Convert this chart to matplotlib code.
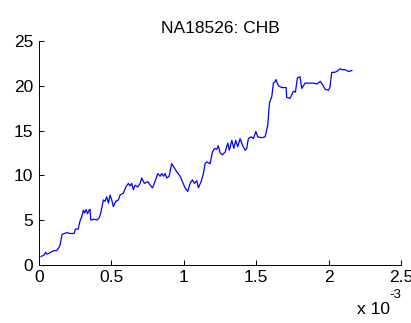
import matplotlib
matplotlib.use("Agg")
import matplotlib.pyplot as plt

plt.rcParams['font.family'] = ['Liberation Sans', 'DejaVu Sans']

# position along the genome (x 10^-3) and cumulative score
pos_e3 = [0.014, 0.035, 0.045, 0.053, 0.07, 0.09, 0.11, 0.122, 0.135, 0.145, 0.159, 0.175,
          0.191, 0.215, 0.242, 0.251, 0.27, 0.283, 0.295, 0.306, 0.315, 0.325, 0.335, 0.345,
          0.352, 0.357, 0.38, 0.40, 0.417, 0.426, 0.444, 0.456, 0.467, 0.479, 0.490, 0.502,
          0.513, 0.530, 0.548, 0.559, 0.582, 0.599, 0.617, 0.628, 0.640, 0.651, 0.663, 0.682,
          0.698, 0.709, 0.727, 0.751, 0.767, 0.783, 0.796, 0.820, 0.836, 0.847, 0.859, 0.870,
          0.882, 0.898, 0.916, 0.935, 0.951, 0.974, 0.990, 1.008, 1.027, 1.043, 1.059, 1.073,
          1.089, 1.100, 1.119, 1.135, 1.146, 1.158, 1.181, 1.197, 1.211, 1.227, 1.238, 1.250,
          1.266, 1.285, 1.303, 1.314, 1.331, 1.345, 1.358, 1.372, 1.388, 1.404, 1.423, 1.434,
          1.445, 1.464, 1.480, 1.497, 1.510, 1.538, 1.561, 1.579, 1.591, 1.607, 1.618, 1.627,
          1.637, 1.645, 1.653, 1.676, 1.706, 1.71, 1.733, 1.745, 1.756, 1.77, 1.784, 1.802,
          1.814, 1.837, 1.87, 1.894, 1.92, 1.941, 1.959, 1.975, 1.998, 2.008, 2.021, 2.04,
          2.056, 2.079, 2.095, 2.113, 2.137, 2.16]
score = [0.93, 1.1, 1.4, 1.2, 1.3, 1.5, 1.6, 1.6, 1.9, 2.2, 3.4, 3.5,
         3.6, 3.5, 3.5, 4.0, 4.0, 4.9, 5.4, 6.1, 5.8, 6.2, 5.7, 6.1,
         6.2, 5.0, 5.1, 5.0, 5.3, 5.8, 7.25, 7.1, 7.6, 6.9, 7.8, 7.25,
         6.5, 7.1, 7.25, 7.8, 8.0, 8.7, 9.1, 8.8, 9.1, 8.4, 8.9, 8.7,
         9.1, 9.7, 9.1, 9.3, 8.9, 8.6, 9.1, 10.2, 9.9, 10.2, 9.9, 10.2,
         9.7, 9.9, 11.3, 10.8, 10.4, 9.9, 9.3, 8.6, 8.2, 9.1, 9.5, 9.1,
         9.4, 8.6, 9.3, 10.2, 11.3, 11.5, 11.3, 12.6, 13.0, 12.9, 13.3, 12.5,
         12.3, 12.6, 13.6, 12.8, 13.9, 13.0, 13.9, 13.2, 14.1, 13.4, 12.8, 13.0,
         14.1, 14.3, 14.1, 14.9, 14.3, 14.2, 14.3, 15.6, 18.1, 18.8, 20.3, 20.4,
         20.7, 20.3, 20.0, 19.8, 19.8, 18.7, 18.6, 19.0, 19.4, 19.3, 20.9, 21.0,
         19.7, 20.3, 20.3, 20.3, 20.2, 20.5, 20.1, 19.6, 19.5, 19.8, 21.5, 21.5,
         21.6, 21.9, 21.8, 21.8, 21.6, 21.7]

title = 'NA18526: CHB'
xticks = [0, 0.5, 1, 1.5, 2, 2.5]
yticks = [0, 5, 10, 15, 20, 25]

fig = plt.figure(figsize=(4.11, 3.23), dpi=100)
ax = fig.add_axes([0.095, 0.180, 0.881, 0.693])

ax.plot(pos_e3, score, color='#0000ff', linewidth=0.9)

ax.set_xlim(0, 2.5)
ax.set_ylim(0, 25)
ax.set_xticks(xticks)
ax.set_xticklabels(['0', '0.5', '1', '1.5', '2', '2.5'])
ax.set_yticks(yticks)
ax.spines['top'].set_visible(False)
ax.spines['right'].set_visible(False)
for s in ('left', 'bottom'):
    ax.spines[s].set_linewidth(0.7)
ax.tick_params(direction='in', length=3.5, width=0.7, labelsize=12.5, pad=4)
ax.set_title(title, fontsize=12.5, pad=6)

# exponent note under the x axis
fig.text(0.868, 0.02, 'x 10', fontsize=12.5, ha='left', va='bottom')
fig.text(0.948, 0.068, '-3', fontsize=9.5, ha='left', va='bottom')

fig.savefig('out.png', dpi=100)
